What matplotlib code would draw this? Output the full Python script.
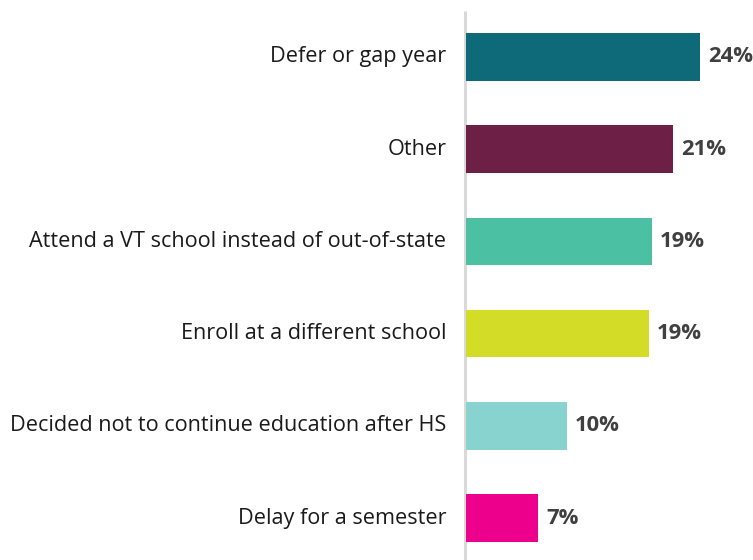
import matplotlib.pyplot as plt

plt.rcParams['font.family'] = ['Open Sans', 'DejaVu Sans']

categories = [
    "Defer or gap year",
    "Other",
    "Attend a VT school instead of out-of-state",
    "Enroll at a different school",
    "Decided not to continue education after HS",
    "Delay for a semester",
]
values = [24.0, 21.2, 19.1, 18.7, 10.3, 7.4]
colors = ["#0e6a78", "#6d1f45", "#4bc0a3", "#d3dd28", "#88d3d0", "#ec008c"]

fig = plt.figure(figsize=(7.53, 5.6), dpi=100)
ax = fig.add_axes([466 / 753, 0, 287 / 753, 1])

pos = list(range(len(categories)))
ax.barh(pos, values, height=0.515, color=colors, zorder=3)

# value labels just past the bar ends
for y, v in zip(pos, values):
    ax.text(v + 0.8, y, f"{v:.0f}%", ha="left", va="center",
            fontsize=15.8, fontweight="bold", color="#404040")

# category labels to the left of the axis line
for y, c in zip(pos, categories):
    ax.text(-2.0, y, c, ha="right", va="center", fontsize=15.6,
            color="#1a1a1a", clip_on=False)

# gray vertical axis line
ax.plot([-0.15, -0.15], [-0.5, 5.6], color="#d9d9d9", lw=2.2,
        zorder=2, clip_on=False, solid_capstyle="butt")

ax.set_xlim(0, 29.4)
ax.set_ylim(5.455, -0.618)
ax.axis("off")

fig.savefig("out.png", dpi=100)
